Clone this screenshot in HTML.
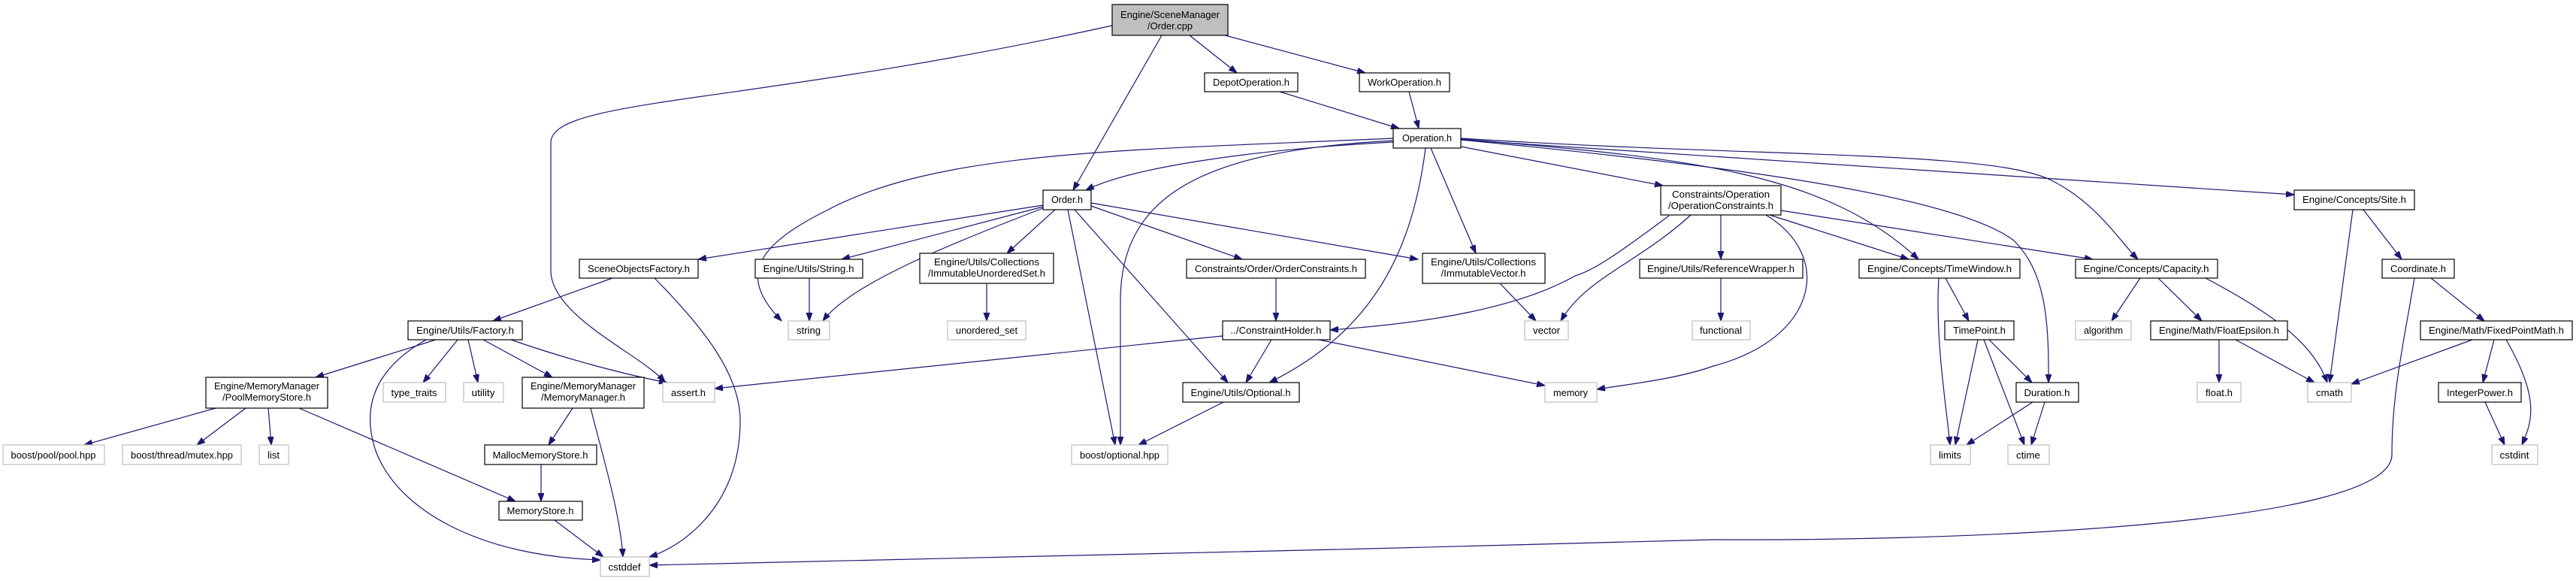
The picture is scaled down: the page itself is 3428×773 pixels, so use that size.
<!DOCTYPE html>
<html><head><meta charset="utf-8"><style>
html,body{margin:0;padding:0;background:#fff;}
svg{display:block;}
text{font-family:"Liberation Sans",sans-serif;font-size:13px;fill:#000;}
</style></head><body>
<svg width="3428" height="773" viewBox="0 0 3428 773" xmlns="http://www.w3.org/2000/svg">
<defs>
<marker id="a" markerUnits="userSpaceOnUse" markerWidth="12" markerHeight="10" refX="11" refY="4" orient="auto">
<path d="M0,0 L11,4 L0,8 z" fill="#191970" stroke="#191970"/>
</marker>
</defs>
<g fill="none" stroke="#191970" stroke-width="1.2" marker-end="url(#a)">
<path d="M1480,34 C1000,140 733,130 733,190 L733,360 C733,420 850,470 885,508"/>
<path d="M1546,47 L1428,253"/>
<path d="M1583,47 L1646,97"/>
<path d="M1630,47 L1817,97"/>
<path d="M1703,122 L1862,171"/>
<path d="M1875,122 L1888,171"/>
<path d="M1854,189 C1650,200 1500,225 1445,253"/>
<path d="M1854,184 C1500,200 1250,200 1100,280 C1000,330 985,370 1040,427"/>
<path d="M1856,187 C1600,200 1491,260 1491,400 L1491,592"/>
<path d="M1897,197 C1880,330 1830,440 1689,509"/>
<path d="M1904,197 L1964,337"/>
<path d="M1944,195 L2213,247"/>
<path d="M1944,185 C2250,210 2430,230 2553,345"/>
<path d="M1944,186 C2300,220 2600,260 2680,320 C2720,360 2727,420 2726,509"/>
<path d="M1944,184 C2350,210 2650,200 2730,240 C2790,270 2820,320 2845,345"/>
<path d="M1944,186 L3053,259"/>
<path d="M1388,273 L929,345"/>
<path d="M1388,275 L1120,345"/>
<path d="M1388,277 C1250,330 1130,380 1095,427"/>
<path d="M1404,279 L1340,337"/>
<path d="M1421,279 L1484,592"/>
<path d="M1430,279 L1634,509"/>
<path d="M1452,274 L1653,345"/>
<path d="M1452,270 L1887,345"/>
<path d="M1313,377 L1313,427"/>
<path d="M1698,370 L1698,427"/>
<path d="M1692,452 L1658,509"/>
<path d="M1755,452 L2056,513"/>
<path d="M1627,447 L951,517"/>
<path d="M1628,535 L1515,592"/>
<path d="M1996,377 L2044,427"/>
<path d="M2221,287 C2150,340 2120,360 2096,367 C2020,410 1900,430 1770,439"/>
<path d="M2250,286 C2180,350 2110,370 2077,427"/>
<path d="M2290,286 L2290,345"/>
<path d="M2350,286 C2440,340 2420,450 2280,487 C2230,505 2160,512 2125,518"/>
<path d="M2355,286 L2540,345"/>
<path d="M2370,280 L2785,345"/>
<path d="M2290,370 L2290,427"/>
<path d="M2589,370 L2620,427"/>
<path d="M2580,370 C2575,450 2590,540 2595,592"/>
<path d="M2632,452 L2602,592"/>
<path d="M2640,452 L2694,592"/>
<path d="M2647,452 L2704,509"/>
<path d="M2705,535 L2617,592"/>
<path d="M2721,535 L2703,592"/>
<path d="M2848,370 L2810,427"/>
<path d="M2872,370 L2930,427"/>
<path d="M2935,370 C3030,420 3080,460 3097,509"/>
<path d="M2953,452 L2953,509"/>
<path d="M2975,452 L3080,509"/>
<path d="M3131,279 L3100,509"/>
<path d="M3145,279 L3196,345"/>
<path d="M3235,370 L3306,427"/>
<path d="M3213,370 C3200,450 3183,520 3183,605 C3183,700 2600,720 2280,718 C1800,730 1200,748 864,752"/>
<path d="M3290,452 L3129,511"/>
<path d="M3319,452 L3304,509"/>
<path d="M3335,452 C3380,530 3370,560 3356,592"/>
<path d="M3307,535 L3333,592"/>
<path d="M815,370 L656,427"/>
<path d="M871,370 C940,440 985,500 985,560 C985,680 900,730 864,741"/>
<path d="M580,452 L420,502"/>
<path d="M609,452 L563,509"/>
<path d="M623,452 L636,509"/>
<path d="M643,452 L735,502"/>
<path d="M680,452 C760,480 840,500 888,509"/>
<path d="M567,452 C500,490 480,540 500,600 C530,680 640,740 799,745"/>
<path d="M287,543 L112,592"/>
<path d="M327,543 L262,592"/>
<path d="M357,543 L361,592"/>
<path d="M398,543 L686,667"/>
<path d="M762,543 L730,592"/>
<path d="M786,543 C800,600 825,680 829,741"/>
<path d="M720,618 L720,667"/>
<path d="M738,692 L803,741"/>
<path d="M1077,370 L1077,427"/>
</g>
<g stroke-width="1.2">
<g fill="#fff" stroke="#000">
<rect x="1603" y="97" width="124" height="25"/>
<rect x="1809" y="97" width="120" height="25"/>
<rect x="1854" y="171" width="90" height="26"/>
<rect x="1388" y="253" width="64" height="26"/>
<rect x="1224" y="337" width="178" height="40"/>
<rect x="1579" y="345" width="238" height="25"/>
<rect x="1893" y="337" width="163" height="40"/>
<rect x="2210" y="247" width="160" height="39"/>
<rect x="2182" y="345" width="217" height="25"/>
<rect x="2474" y="345" width="214" height="25"/>
<rect x="2762" y="345" width="189" height="25"/>
<rect x="3053" y="253" width="160" height="26"/>
<rect x="3170" y="345" width="96" height="25"/>
<rect x="771" y="345" width="158" height="25"/>
<rect x="1005" y="345" width="143" height="25"/>
<rect x="543" y="427" width="152" height="25"/>
<rect x="274" y="502" width="162" height="41"/>
<rect x="695" y="502" width="162" height="41"/>
<rect x="645" y="592" width="149" height="26"/>
<rect x="664" y="667" width="111" height="25"/>
<rect x="1627" y="427" width="143" height="25"/>
<rect x="1574" y="509" width="155" height="26"/>
<rect x="2588" y="427" width="92" height="25"/>
<rect x="2862" y="427" width="182" height="25"/>
<rect x="3221" y="427" width="202" height="25"/>
<rect x="2683" y="509" width="83" height="26"/>
<rect x="3245" y="509" width="110" height="26"/>
</g>
<rect x="1480" y="6" width="154" height="41" fill="#bfbfbf" stroke="#000"/>
<g fill="#fff" stroke="#bfbfbf">
<rect x="1049" y="427" width="55" height="25"/>
<rect x="510" y="509" width="83" height="26"/>
<rect x="617" y="509" width="53" height="26"/>
<rect x="882" y="509" width="69" height="26"/>
<rect x="4" y="592" width="135" height="26"/>
<rect x="163" y="592" width="158" height="26"/>
<rect x="345" y="592" width="39" height="26"/>
<rect x="799" y="741" width="65" height="26"/>
<rect x="1261" y="427" width="104" height="25"/>
<rect x="2029" y="427" width="58" height="25"/>
<rect x="2252" y="427" width="77" height="25"/>
<rect x="2056" y="509" width="69" height="26"/>
<rect x="1426" y="592" width="128" height="26"/>
<rect x="2762" y="427" width="74" height="25"/>
<rect x="2924" y="509" width="58" height="26"/>
<rect x="3071" y="509" width="58" height="26"/>
<rect x="2569" y="592" width="53" height="26"/>
<rect x="2672" y="592" width="55" height="26"/>
<rect x="3316" y="592" width="61" height="26"/>
</g>
</g>
<g text-anchor="middle">
<text x="1557" y="24" textLength="132" lengthAdjust="spacingAndGlyphs">Engine/SceneManager</text>
<text x="1557" y="39" textLength="60" lengthAdjust="spacingAndGlyphs">/Order.cpp</text>
<text x="1665" y="114" textLength="102" lengthAdjust="spacingAndGlyphs">DepotOperation.h</text>
<text x="1869" y="114" textLength="98" lengthAdjust="spacingAndGlyphs">WorkOperation.h</text>
<text x="1899" y="188" textLength="66" lengthAdjust="spacingAndGlyphs">Operation.h</text>
<text x="1420" y="270" textLength="42" lengthAdjust="spacingAndGlyphs">Order.h</text>
<text x="1313" y="353" textLength="140" lengthAdjust="spacingAndGlyphs">Engine/Utils/Collections</text>
<text x="1313" y="368" textLength="156" lengthAdjust="spacingAndGlyphs">/ImmutableUnorderedSet.h</text>
<text x="1698" y="362" textLength="216" lengthAdjust="spacingAndGlyphs">Constraints/Order/OrderConstraints.h</text>
<text x="1974" y="353" textLength="140" lengthAdjust="spacingAndGlyphs">Engine/Utils/Collections</text>
<text x="1974" y="368" textLength="113" lengthAdjust="spacingAndGlyphs">/ImmutableVector.h</text>
<text x="2290" y="263" textLength="130" lengthAdjust="spacingAndGlyphs">Constraints/Operation</text>
<text x="2290" y="278" textLength="140" lengthAdjust="spacingAndGlyphs">/OperationConstraints.h</text>
<text x="2290" y="362" textLength="196" lengthAdjust="spacingAndGlyphs">Engine/Utils/ReferenceWrapper.h</text>
<text x="2581" y="362" textLength="192" lengthAdjust="spacingAndGlyphs">Engine/Concepts/TimeWindow.h</text>
<text x="2856" y="362" textLength="167" lengthAdjust="spacingAndGlyphs">Engine/Concepts/Capacity.h</text>
<text x="3133" y="270" textLength="138" lengthAdjust="spacingAndGlyphs">Engine/Concepts/Site.h</text>
<text x="3218" y="362" textLength="74" lengthAdjust="spacingAndGlyphs">Coordinate.h</text>
<text x="850" y="362" textLength="136" lengthAdjust="spacingAndGlyphs">SceneObjectsFactory.h</text>
<text x="1076" y="362" textLength="121" lengthAdjust="spacingAndGlyphs">Engine/Utils/String.h</text>
<text x="619" y="444" textLength="130" lengthAdjust="spacingAndGlyphs">Engine/Utils/Factory.h</text>
<text x="355" y="518" textLength="140" lengthAdjust="spacingAndGlyphs">Engine/MemoryManager</text>
<text x="355" y="533" textLength="118" lengthAdjust="spacingAndGlyphs">/PoolMemoryStore.h</text>
<text x="776" y="518" textLength="140" lengthAdjust="spacingAndGlyphs">Engine/MemoryManager</text>
<text x="776" y="533" textLength="112" lengthAdjust="spacingAndGlyphs">/MemoryManager.h</text>
<text x="719" y="610" textLength="127" lengthAdjust="spacingAndGlyphs">MallocMemoryStore.h</text>
<text x="719" y="684" textLength="89" lengthAdjust="spacingAndGlyphs">MemoryStore.h</text>
<text x="1698" y="444" textLength="121" lengthAdjust="spacingAndGlyphs">../ConstraintHolder.h</text>
<text x="1651" y="527" textLength="133" lengthAdjust="spacingAndGlyphs">Engine/Utils/Optional.h</text>
<text x="2634" y="444" textLength="70" lengthAdjust="spacingAndGlyphs">TimePoint.h</text>
<text x="2953" y="444" textLength="160" lengthAdjust="spacingAndGlyphs">Engine/Math/FloatEpsilon.h</text>
<text x="3322" y="444" textLength="180" lengthAdjust="spacingAndGlyphs">Engine/Math/FixedPointMath.h</text>
<text x="2724" y="527" textLength="61" lengthAdjust="spacingAndGlyphs">Duration.h</text>
<text x="3300" y="527" textLength="88" lengthAdjust="spacingAndGlyphs">IntegerPower.h</text>
<text x="1076" y="444" textLength="32" lengthAdjust="spacingAndGlyphs">string</text>
<text x="551" y="527" textLength="61" lengthAdjust="spacingAndGlyphs">type_traits</text>
<text x="643" y="527" textLength="31" lengthAdjust="spacingAndGlyphs">utility</text>
<text x="916" y="527" textLength="46" lengthAdjust="spacingAndGlyphs">assert.h</text>
<text x="71" y="610" textLength="113" lengthAdjust="spacingAndGlyphs">boost/pool/pool.hpp</text>
<text x="242" y="610" textLength="136" lengthAdjust="spacingAndGlyphs">boost/thread/mutex.hpp</text>
<text x="364" y="610" textLength="16" lengthAdjust="spacingAndGlyphs">list</text>
<text x="831" y="759" textLength="43" lengthAdjust="spacingAndGlyphs">cstddef</text>
<text x="1313" y="444" textLength="82" lengthAdjust="spacingAndGlyphs">unordered_set</text>
<text x="2058" y="444" textLength="36" lengthAdjust="spacingAndGlyphs">vector</text>
<text x="2290" y="444" textLength="56" lengthAdjust="spacingAndGlyphs">functional</text>
<text x="2090" y="527" textLength="46" lengthAdjust="spacingAndGlyphs">memory</text>
<text x="1490" y="610" textLength="106" lengthAdjust="spacingAndGlyphs">boost/optional.hpp</text>
<text x="2799" y="444" textLength="52" lengthAdjust="spacingAndGlyphs">algorithm</text>
<text x="2953" y="527" textLength="36" lengthAdjust="spacingAndGlyphs">float.h</text>
<text x="3100" y="527" textLength="36" lengthAdjust="spacingAndGlyphs">cmath</text>
<text x="2595" y="610" textLength="30" lengthAdjust="spacingAndGlyphs">limits</text>
<text x="2699" y="610" textLength="32" lengthAdjust="spacingAndGlyphs">ctime</text>
<text x="3346" y="610" textLength="39" lengthAdjust="spacingAndGlyphs">cstdint</text>
</g>
</svg>
</body></html>
